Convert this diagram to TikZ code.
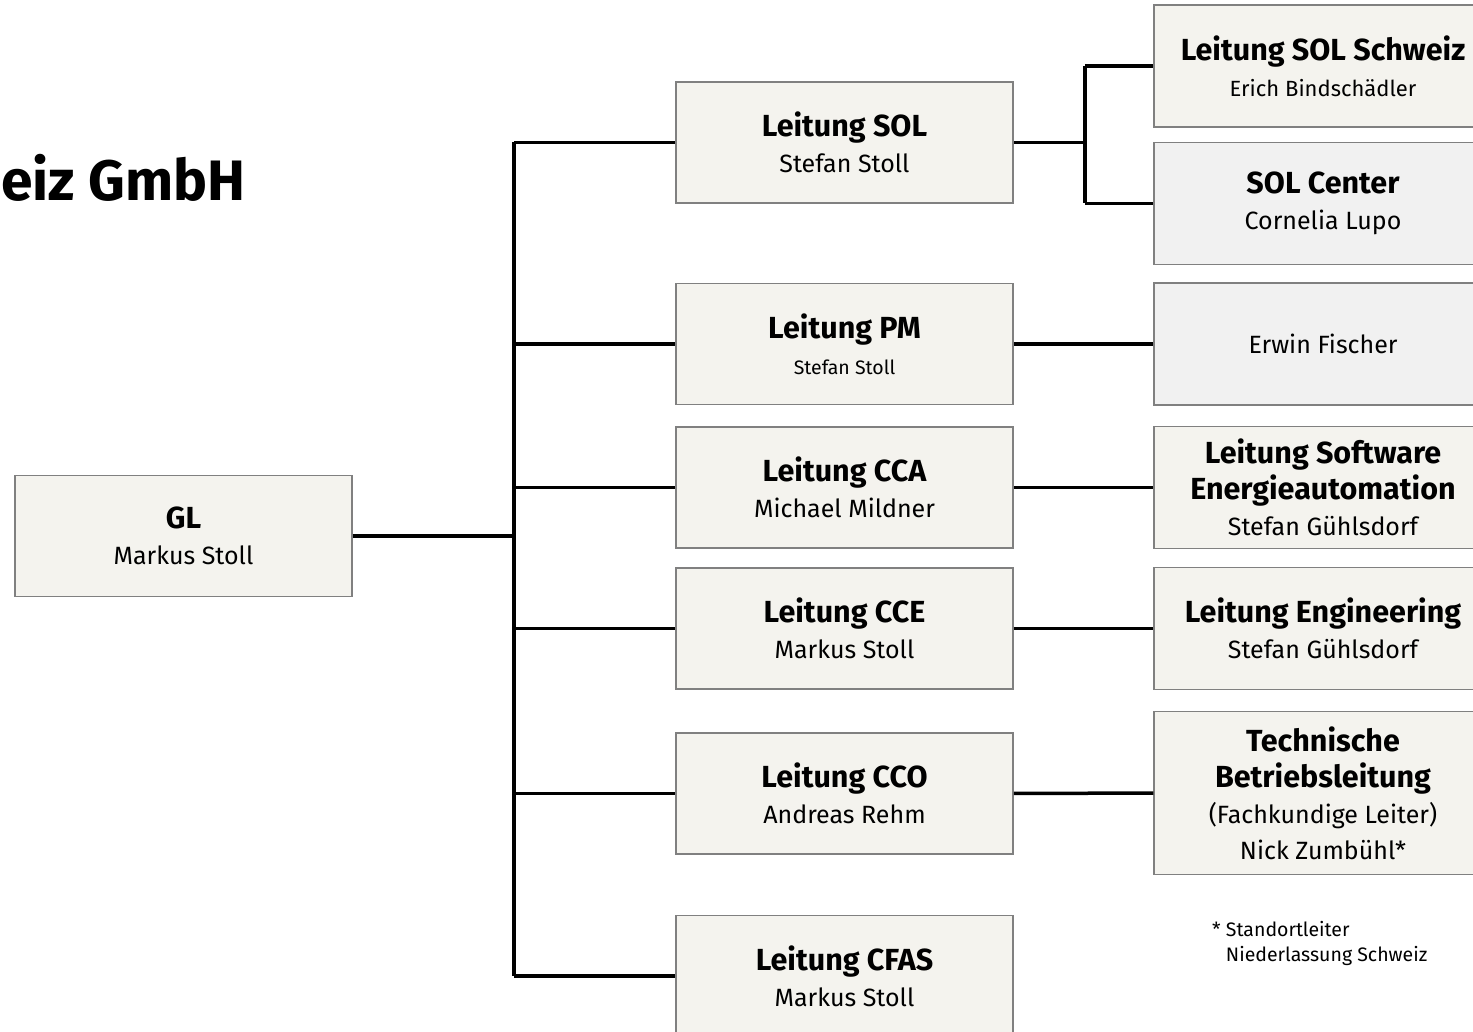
\documentclass[tikz,border=0pt]{standalone}
\usepackage{fontspec}
\setmainfont{Fira Sans}
\usetikzlibrary{positioning}
\definecolor{boxfill}{RGB}{244,243,238}
\definecolor{greyfill}{RGB}{241,241,241}
\definecolor{boxline}{RGB}{128,128,128}
\newcommand{\hd}{\fontsize{30.5}{36}\selectfont\bfseries}
\newcommand{\nm}{\fontsize{25}{36}\selectfont}

\begin{document}
\begin{tikzpicture}[
			x=1pt, y=-1pt,
			unit/.style={
				draw=boxline,
				line width=1.5pt,
				fill=boxfill,
				rectangle,
				inner sep=0pt,
				align=center,
				font=\nm,
				minimum width=337pt,
				minimum height=121pt
			},
			sub/.style={
				unit,
				minimum width=338pt,
				minimum height=122pt
			},
			greysub/.style={
				sub,
				fill=greyfill
			},
			link/.style={
				line width=3.5pt,
				black
			}
			]
			\useasboundingbox (0,0) rectangle (1473,1032);
			% Title
			\node[anchor=base west, inner sep=0pt, font=\fontsize{57}{66}\selectfont\bfseries] (title) at (1,201) {eiz GmbH};
			% Units
			\node[unit] (gl) at (183.5,536) {{\hd GL}\\Markus Stoll};
			\node[unit] (sol) at (844.5,142.5) {{\hd Leitung SOL}\\Stefan Stoll};
			\node[unit] (pm) at (844.5,344) {{\hd Leitung PM}\\{\fontsize{19.5}{34}\selectfont Stefan Stoll}};
			\node[unit] (cca) at (844.5,487.5) {{\hd Leitung CCA}\\Michael Mildner};
			\node[unit] (cce) at (844.5,628.5) {{\hd Leitung CCE}\\Markus Stoll};
			\node[unit] (cco) at (844.5,793.5) {{\hd Leitung CCO}\\Andreas Rehm};
			\node[unit] (cfas) at (844.5,976) {{\hd Leitung CFAS}\\Markus Stoll};
			% Sub units
			\node[sub] (solch) at (1323,66) {{\hd Leitung SOL Schweiz}\\{\fontsize{22}{32}\selectfont Erich Bindschädler}};
			\node[greysub] (solc) at (1323,203.5) {{\hd SOL Center}\\Cornelia Lupo};
			\node[greysub] (ef) at (1323,344) {Erwin Fischer};
			\node[sub] (swe) at (1323,487.5) {{\hd Leitung Software}\\{\hd Energieautomation}\\Stefan Gühlsdorf};
			\node[sub] (eng) at (1323,628.5) {{\hd Leitung Engineering}\\Stefan Gühlsdorf};
			\node[sub, minimum height=163pt] (tbl) at (1323,793) {{\hd Technische}\\{\hd Betriebsleitung}\\(Fachkundige Leiter)\\Nick Zumbühl*};
			\node[anchor=north west, align=left, font=\fontsize{19.5}{25}\selectfont, inner sep=0pt] (note) at (1212,921) {* Standortleiter\\\hphantom{* }Niederlassung Schweiz};
			% Connectors
			\coordinate (trunktop) at (514,142.5);
			\coordinate (trunkbot) at (514,976);
			\coordinate (fork) at (1085,142.5);
			\draw[link] (trunktop |- sol) -- (trunkbot |- cfas);
			\draw[link] (gl) -- (gl -| trunktop);
			\foreach \u in {sol,pm,cca,cce,cco,cfas}
				\draw[link] (trunktop |- \u) -- (\u.west);
			\draw[link] (sol.east) -- (fork);
			\draw[link] (fork |- solch) -- (fork |- solc);
			\draw[link] (fork |- solch) -- (solch.west);
			\draw[link] (fork |- solc) -- (solc.west);
			\draw[link] (pm) -- (ef);
			\draw[link] (cca) -- (swe);
			\draw[link] (cce) -- (eng);
			\draw[link] (cco) -- (tbl);
		\end{tikzpicture}
\end{document}
